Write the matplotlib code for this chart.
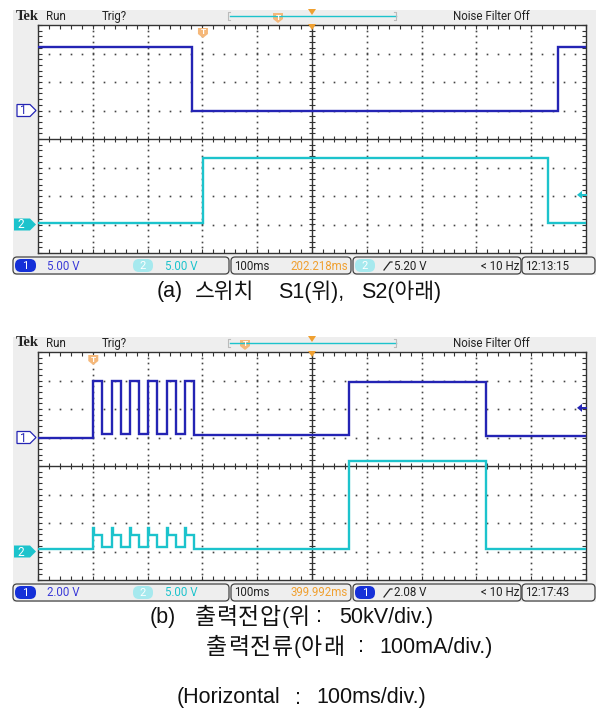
import numpy as np
import matplotlib
matplotlib.use("Agg")
import matplotlib.pyplot as plt
import matplotlib.transforms as mtransforms
from matplotlib.patches import Rectangle, FancyBboxPatch, Polygon
from matplotlib.lines import Line2D
from matplotlib.ticker import MultipleLocator

W, H, DPI = 599, 717, 100

# ---- data : time in ms (100 ms/div, screen 0..1000 ms), levels in V ----

# (a) switch S1 (ch1) / S2 (ch2)
a_ch1_edges = [0, 280.5, 948]
a_ch1_volts = [11.1, 0.0, 11.1]
a_ch2_edges = [0, 301, 930]
a_ch2_volts = [0.3, 11.7, 0.3]

# (b) output voltage (ch1) / output current (ch2)
b_ch1_edges = [0, 100.9, 117.3, 134.5, 150.9, 167.9, 184.3, 201.3, 217.7,
               234.9, 251.3, 268.2, 285.2, 568, 817]
b_ch1_volts = [0.0, 3.96, 0.25, 3.96, 0.25, 3.96, 0.25, 3.96, 0.25,
               3.96, 0.25, 3.96, 0.15, 3.87, 0.1]
b_ch2_edges = [0, 100.9, 103, 117.3, 134.5, 136.6, 150.9, 167.9, 170, 184.3,
               201.3, 203.4, 217.7, 234.9, 237, 251.3, 268.2, 270.3, 285.2,
               568, 817]
b_ch2_volts = [0.4, 4.1, 2.9, 0.8, 4.1, 2.9, 0.8, 4.1, 2.9, 0.8,
               4.1, 2.9, 0.8, 4.1, 2.9, 0.8, 4.1, 2.9, 0.4,
               15.9, 0.4]

# scope settings shown on screen
a_settings = dict(ch1_scale=5.0, ch2_scale=5.0, ch1_txt="5.00 V", ch2_txt="5.00 V",
                  delay="202.218ms", trig_src=2, trig_level=5.20, trig_txt="5.20 V",
                  trig_time=301, clock="12:13:15", rec_T=278)
b_settings = dict(ch1_scale=2.0, ch2_scale=5.0, ch1_txt="2.00 V", ch2_txt="5.00 V",
                  delay="399.992ms", trig_src=1, trig_level=2.08, trig_txt="2.08 V",
                  trig_time=100.9, clock="12:17:43", rec_T=245)
ch1_offset, ch2_offset = 1.0, -3.0     # ground markers in divisions

# captions, split in runs (text, left x px, centre y px, hangul pitch px or 0)
captions = [
    ("(a)", 157, 292, 0), ("스위치", 195, 292, 0), ("S1(위),", 278, 292, 0),
    ("S2(아래)", 361, 292, 0),
    ("(b)", 150, 617, 0), ("출력전압", 195, 617, 21.5), ("(", 282, 617, 0),
    ("위", 289, 617, 21.5), (":", 316, 617, 0), ("50kV/div.)", 339, 617, 0),
    ("출력전류", 206, 647, 22), ("(", 294, 647, 0), ("아래", 301, 647, 22),
    (":", 358, 647, 0), ("100mA/div.)", 379, 647, 0),
    ("(Horizontal", 177, 698, 0), (":", 295, 698, 0), ("100ms/div.)", 316, 698, 0),
]

# ---- colours / fonts ----
C1 = "#2424B4"
C1_PILL = "#1530D8"
C2 = "#1CC3CC"
C2_PILL = "#A6E9EE"
ORANGE = "#F0A030"
ORANGE_T = "#F5B87A"
GREY_BG = "#EEEEEE"
SCOPE_FONT = ["Roboto", "DejaVu Sans"]
CAP_FONT = ["Liberation Sans", "Noto Sans CJK KR", "DejaVu Sans"]

fig = plt.figure(figsize=(W / DPI, H / DPI), dpi=DPI)
fig.patch.set_facecolor("white")

# pixel coords, y measured from the top
PX = mtransforms.Affine2D().scale(1 / DPI, -1 / DPI).translate(0, H / DPI) + fig.dpi_scale_trans


def ptext(x, y, s, **kw):
    kw.setdefault("va", "center")
    kw.setdefault("family", SCOPE_FONT)
    kw.setdefault("fontsize", 8.3)
    fig.text(x, y, s, transform=PX, **kw)


def pill(x, y, w, h, fc, label):
    fig.add_artist(FancyBboxPatch((x, y), w, h, boxstyle="round,pad=0,rounding_size=6",
                                  fc=fc, ec="none", transform=PX))
    ptext(x + w / 2, y + h / 2 + 0.5, label, color="white", ha="center", fontsize=8)


def t_marker(x, y):
    fig.add_artist(Polygon([(x - 5, y - 5), (x + 5, y - 5), (x + 5, y + 1), (x, y + 5),
                            (x - 5, y + 1)], closed=True, fc=ORANGE_T, ec="none", transform=PX))
    ptext(x, y - 1, "T", color="white", ha="center", fontsize=6, fontweight="bold")


def tri_marker(x, y):
    fig.add_artist(Polygon([(x - 4, y - 3), (x + 4, y - 3), (x, y + 3)], closed=True,
                           fc=ORANGE, ec="none", transform=PX))


def draw_panel(oy, tr1, tr2, s):
    top, bot, left, right = 25 + oy, 253 + oy, 38, 586
    pdiv = (bot - top) / 8.0

    def ypx(div):
        return top + (4 - div) * pdiv

    def xpx(ms):
        return left + (right - left) * ms / 1000.0

    # grey screen background (below the axes)
    fig.add_artist(Rectangle((13, 10 + oy), 583, 265, fc=GREY_BG, ec="none",
                             transform=PX, zorder=-1))

    # ---- top status line
    ptext(16, 16 + oy, "Tek", family=["Liberation Serif", "DejaVu Serif"],
          fontweight="bold", fontsize=10.5, color="#222222")
    ptext(46, 16.5 + oy, "Run", color="#222222")
    ptext(102, 16.5 + oy, "Trig?", color="#222222")
    ptext(491, 16.5 + oy, "Noise Filter Off", color="#222222", ha="center")
    fig.add_artist(Line2D([230, 396], [16 + oy, 16 + oy], color=C2, lw=1.0, transform=PX))
    fig.add_artist(Line2D([230, 228, 228, 230], [12 + oy, 12 + oy, 20 + oy, 20 + oy],
                          color="#BBBBBB", lw=0.8, transform=PX))
    fig.add_artist(Line2D([394, 396, 396, 394], [12 + oy, 12 + oy, 20 + oy, 20 + oy],
                          color="#BBBBBB", lw=0.8, transform=PX))
    tri_marker(312, 12 + oy)
    t_marker(s["rec_T"], 18 + oy)

    # ---- graticule
    ax = fig.add_axes([left / W, 1 - bot / H, (right - left) / W, (bot - top) / H])
    ax.set_xlim(0, 1000)
    ax.set_ylim(-4, 4)
    ax.set_facecolor("white")
    for sp in ax.spines.values():
        sp.set_color("#333333")
        sp.set_linewidth(1.0)
    ax.xaxis.set_major_locator(MultipleLocator(100))
    ax.xaxis.set_minor_locator(MultipleLocator(20))
    ax.yaxis.set_major_locator(MultipleLocator(1))
    ax.yaxis.set_minor_locator(MultipleLocator(0.2))
    ax.tick_params(which="both", direction="in", top=True, right=True, length=3,
                   width=0.8, color="#333333", labelbottom=False, labelleft=False)

    xs_minor = np.arange(0, 1001, 20)
    ys_minor = np.arange(-4, 4.01, 0.2)
    for gx in range(100, 1000, 100):
        if gx != 500:
            ax.plot(np.full_like(ys_minor, gx), ys_minor, ls="none", marker="s",
                    ms=1.2, mew=0, color="#444444")
    for gy in range(-3, 4):
        if gy != 0:
            ax.plot(xs_minor, np.full_like(xs_minor, gy, dtype=float), ls="none",
                    marker="s", ms=1.2, mew=0, color="#444444")
    ax.axhline(0, color="#333333", lw=1.0)
    ax.axvline(500, color="#333333", lw=1.0)
    ax.plot(xs_minor, np.zeros_like(xs_minor), ls="none", marker="|", ms=4.5,
            mew=0.8, color="#333333")
    ax.plot(np.full_like(ys_minor, 500), ys_minor, ls="none", marker="_", ms=4.5,
            mew=0.8, color="#333333")

    # ---- traces
    for (edges, volts), scale, off, col in [(tr1, s["ch1_scale"], ch1_offset, C1),
                                             (tr2, s["ch2_scale"], ch2_offset, C2)]:
        t = list(edges) + [1000]
        v = np.array(list(volts) + [volts[-1]]) / scale + off
        ax.plot(t, v, drawstyle="steps-post", color=col, lw=1.7, zorder=5,
                solid_joinstyle="miter")

    # ---- markers round the graticule
    tri_marker(312, top + 2)
    t_marker(xpx(s["trig_time"]), top + 8)

    y1 = ypx(ch1_offset)
    fig.add_artist(Polygon([(17, y1 - 6), (30, y1 - 6), (36, y1), (30, y1 + 6), (17, y1 + 6)],
                           closed=True, fc="white", ec=C1, lw=0.9, transform=PX))
    ptext(23, y1 + 0.5, "1", color=C1, ha="center", fontsize=8.5)
    y2 = ypx(ch2_offset)
    fig.add_artist(Polygon([(14, y2 - 6), (30, y2 - 6), (36, y2), (30, y2 + 6), (14, y2 + 6)],
                           closed=True, fc=C2, ec="none", transform=PX))
    ptext(21, y2 + 0.5, "2", color="white", ha="center", fontsize=8.5)

    if s["trig_src"] == 1:
        tcol, tscale, toff = C1, s["ch1_scale"], ch1_offset
    else:
        tcol, tscale, toff = C2, s["ch2_scale"], ch2_offset
    yt = ypx(s["trig_level"] / tscale + toff)
    fig.add_artist(Polygon([(577, yt), (582, yt - 4), (582, yt + 4)], closed=True,
                           fc=tcol, ec="none", transform=PX, zorder=6))
    fig.add_artist(Line2D([580, 586], [yt, yt], color=tcol, lw=1.4, transform=PX, zorder=6))

    # ---- bottom status line
    by, bh = 257 + oy, 17
    for x0, x1 in [(13, 229), (231, 351), (353, 521), (522, 595)]:
        fig.add_artist(FancyBboxPatch((x0, by), x1 - x0, bh,
                                      boxstyle="round,pad=0,rounding_size=4",
                                      fc=GREY_BG, ec="#444444", lw=0.9, transform=PX))
    yc = by + bh / 2 + 0.5
    pill(15, by + 2, 21, bh - 4, C1_PILL, "1")
    ptext(47, yc, s["ch1_txt"], color="#3A3AD8")
    pill(133, by + 2, 20, bh - 4, C2_PILL, "2")
    ptext(165, yc, s["ch2_txt"], color=C2)
    ptext(234, yc, "100ms", color="#222222")
    ptext(348, yc, s["delay"], color=ORANGE, ha="right")
    if s["trig_src"] == 1:
        pill(355, by + 2, 20, bh - 4, C1_PILL, "1")
    else:
        pill(355, by + 2, 20, bh - 4, C2_PILL, "2")
    fig.add_artist(Line2D([384, 390, 392], [yc + 4, yc - 4, yc - 4], color="#222222",
                          lw=0.9, transform=PX))
    ptext(394, yc, s["trig_txt"], color="#222222")
    ptext(519, yc, "< 10 Hz", color="#222222", ha="right")
    ptext(525, yc, s["clock"], color="#222222")
    return ax


draw_panel(0, (a_ch1_edges, a_ch1_volts), (a_ch2_edges, a_ch2_volts), a_settings)
draw_panel(327, (b_ch1_edges, b_ch1_volts), (b_ch2_edges, b_ch2_volts), b_settings)

# ---- captions (long hangul runs spaced character by character, as in the original)
for txt, x, y, pitch in captions:
    if pitch:
        for i, ch in enumerate(txt):
            ptext(x + i * pitch, y, ch, family=CAP_FONT, fontsize=16.5, ha="left",
                  color="#111111")
    else:
        ptext(x, y, txt, family=CAP_FONT, fontsize=15.5, ha="left", color="#111111")

fig.savefig("out.png", dpi=DPI, facecolor="white")
